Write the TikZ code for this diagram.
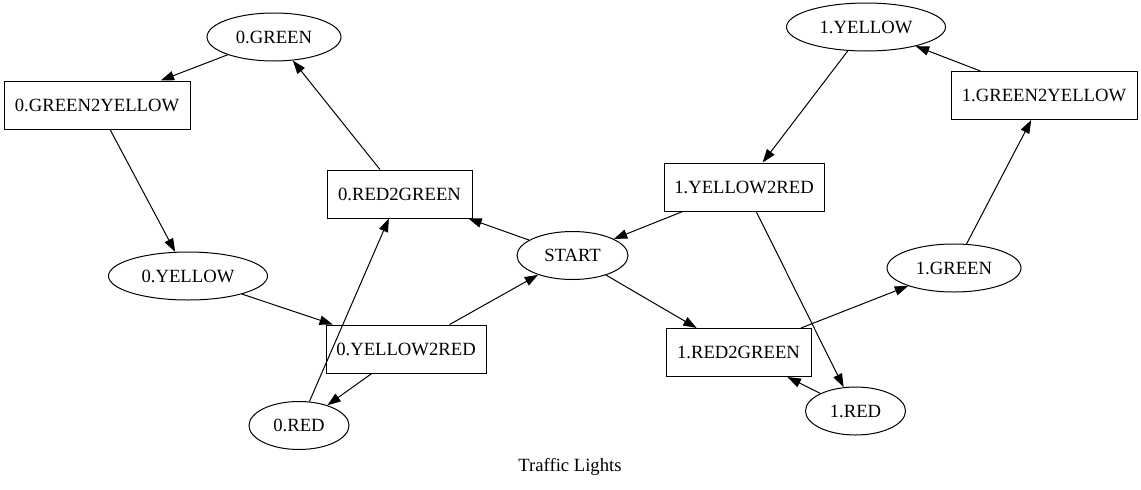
\documentclass[tikz,border=0pt]{standalone}
\usepackage{fontspec}
\setmainfont{Liberation Serif}
\usetikzlibrary{arrows.meta, shapes.geometric}
\newdimen\px
\px=0.75pt
\tikzstyle{every node} = [inner sep=0pt, font=\fontsize{14pt}{17pt}\selectfont]
\tikzstyle{light} = [ellipse, draw, line width=0.75pt, minimum height=48\px]
\tikzstyle{switch} = [rectangle, draw, line width=0.75pt, minimum height=48\px]
\tikzstyle{edge} = [-{Triangle[length=10pt, width=7pt]}, line width=0.75pt]

\begin{document}
\begin{tikzpicture}[x=1\px, y=-1\px]
        \useasboundingbox (0,0) rectangle (1141,489);

        % side 0
        \node[light, minimum width=134\px] (g0) at (274,37) {0.GREEN};
        \node[switch, minimum width=186\px] (gy0) at (97,105) {0.GREEN2YELLOW};
        \node[light, minimum width=159\px] (y0) at (188,276) {0.YELLOW};
        \node[switch, minimum width=145\px] (rg0) at (399.5,194) {0.RED2GREEN};
        \node[switch, minimum width=160\px] (yr0) at (406,349) {0.YELLOW2RED};
        \node[light, minimum width=100\px] (r0) at (299,425.5) {0.RED};

        \node[light, minimum width=111\px] (start) at (572.5,255.5) {START};

        % side 1
        \node[light, minimum width=159\px] (y1) at (866,27) {1.YELLOW};
        \node[switch, minimum width=186\px] (gy1) at (1044,95.5) {1.GREEN2YELLOW};
        \node[switch, minimum width=160\px] (yr1) at (744,187) {1.YELLOW2RED};
        \node[light, minimum width=134\px] (g1) at (954,268) {1.GREEN};
        \node[switch, minimum width=145\px] (rg1) at (738.5,352.5) {1.RED2GREEN};
        \node[light, minimum width=100\px] (r1) at (855.5,411) {1.RED};

        \node (title) at (570,467) {Traffic Lights};

        \draw[edge] (g0) -- (gy0);
        \draw[edge] (gy0) -- (y0);
        \draw[edge] (y0) -- (yr0);
        \draw[edge] (yr0) -- (r0);
        \draw[edge] (yr0) -- (start);
        \draw[edge] (r0) -- (rg0);
        \draw[edge] (rg0) -- (g0);
        \draw[edge] (start) -- (rg0);
        \draw[edge] (start) -- (rg1);
        \draw[edge] (rg1) -- (g1);
        \draw[edge] (g1) -- (gy1);
        \draw[edge] (gy1) -- (y1);
        \draw[edge] (y1) -- (yr1);
        \draw[edge] (yr1) -- (start);
        \draw[edge] (yr1) -- (r1);
        \draw[edge] (r1) -- (rg1);
    \end{tikzpicture}
\end{document}
